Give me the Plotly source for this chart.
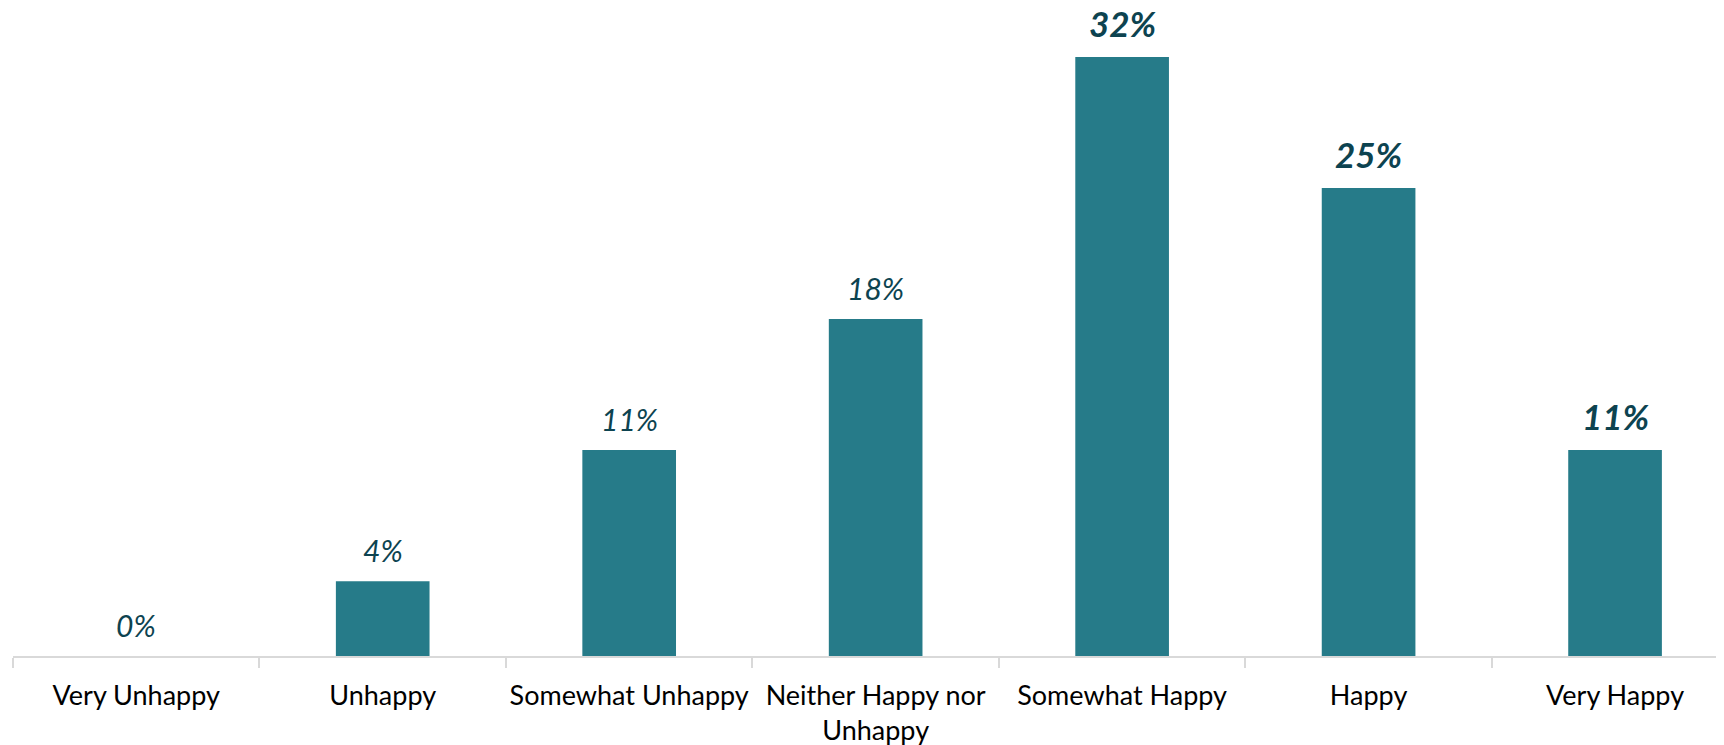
import plotly.graph_objects as go

categories = ["Very Unhappy", "Unhappy", "Somewhat Unhappy", "Neither Happy nor<br>Unhappy",
              "Somewhat Happy", "Happy", "Very Happy"]
values = [0, 4, 11, 18, 32, 25, 11]
labels = ["0%", "4%", "11%", "18%", "32%", "25%", "11%"]

# styling
BAR_COLOR = "#267B89"
LABEL_COLOR = "#0D4350"
EMPHASIS = {4, 5, 6}
FONT = "Lato"

fig = go.Figure()
fig.add_trace(go.Bar(
    x=categories, y=values, width=0.38,
    marker=dict(color=BAR_COLOR, line=dict(width=0)),
    hoverinfo="skip", showlegend=False,
))

for i, (c, v, t) in enumerate(zip(categories, values, labels)):
    bold = i in EMPHASIS
    fig.add_annotation(
        x=c, y=v, xref="x", yref="y",
        text=f"<b><i>{t}</i></b>" if bold else f"<i>{t}</i>",
        showarrow=False, yanchor="bottom", yshift=11,
        font=dict(family=FONT, size=35 if bold else 30, color=LABEL_COLOR),
    )

fig.update_layout(
    width=1716, height=737,
    margin=dict(l=5, r=0, t=0, b=89, autoexpand=False),
    plot_bgcolor="white", paper_bgcolor="white",
    font=dict(family=FONT, color="#000000"),
)
fig.update_xaxes(
    type="category",
    range=[-0.5, 6.442],
    tickson="boundaries",
    tickangle=0,
    ticks="outside", ticklen=10, tickcolor="#D9D9D9", tickwidth=1.5,
    showline=True, linecolor="#D9D9D9", linewidth=1.5,
    showgrid=False, zeroline=False,
    tickfont=dict(family=FONT, size=27, color="#000000"),
    ticklabelstandoff=15,
    automargin=False,
)
fig.update_yaxes(
    range=[0, 34.62], visible=False, showgrid=False, zeroline=False,
)

fig.write_html("out.html")
